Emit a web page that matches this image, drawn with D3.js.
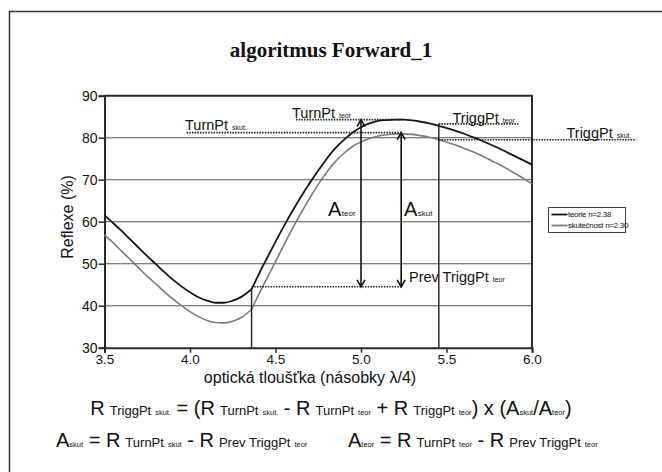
<!DOCTYPE html>
<html>
<head>
<meta charset="utf-8">
<script src="https://cdn.jsdelivr.net/npm/d3@7/dist/d3.min.js"></script>
<style>
  html, body { margin: 0; padding: 0; background: #fff; }
  svg { display: block; }
  text { font-family: "Liberation Sans", Arial, sans-serif; fill: #111; }
</style>
</head>
<body>
<svg id="chart" width="662" height="472"></svg>
<script>
// ---- data -------------------------------------------------------------
// first layer (up to the trigger point), optical thickness in lambda/4
const thickness1 = [3.50, 3.55, 3.60, 3.65, 3.70, 3.75, 3.80, 3.85, 3.90, 3.95,
                    4.00, 4.05, 4.10, 4.15, 4.20, 4.25, 4.30, 4.36];
const teorie1    = [61.5, 59.7, 57.8, 55.8, 53.8, 51.8, 49.9, 48.0, 46.2, 44.6,
                    43.2, 42.0, 41.2, 40.7, 40.7, 41.2, 42.1, 43.9];
const skut1      = [56.8, 55.0, 53.0, 51.0, 49.0, 47.0, 45.2, 43.3, 41.6, 40.0,
                    38.6, 37.4, 36.5, 36.0, 35.9, 36.3, 37.2, 39.1];

// second layer (after the trigger point)
const thickness2 = [4.36, 4.40, 4.45, 4.50, 4.55, 4.60, 4.65, 4.70, 4.75, 4.80,
                    4.85, 4.90, 4.95, 5.00, 5.05, 5.10, 5.15, 5.20, 5.25, 5.30,
                    5.35, 5.40, 5.45, 5.50, 5.55, 5.60, 5.65, 5.70, 5.75, 5.80,
                    5.85, 5.90, 5.95, 6.00];
const teorie2    = [43.9, 47.3, 51.3, 55.2, 59.0, 62.6, 66.0, 69.2, 72.2, 75.0,
                    77.5, 79.5, 81.2, 82.5, 83.4, 84.0, 84.2, 84.3, 84.3, 84.1,
                    83.8, 83.4, 82.9, 82.3, 81.7, 81.0, 80.2, 79.4, 78.5, 77.6,
                    76.6, 75.6, 74.6, 73.6];
const skut2      = [39.1, 42.5, 46.5, 50.5, 54.5, 58.4, 62.1, 65.6, 68.9, 71.8,
                    74.3, 76.3, 77.9, 79.0, 79.8, 80.4, 80.7, 80.9, 80.9, 80.8,
                    80.5, 80.1, 79.6, 79.0, 78.3, 77.5, 76.7, 75.8, 74.8, 73.8,
                    72.7, 71.5, 70.3, 69.0];

const xTicks = [3.5, 4.0, 4.5, 5.0, 5.5, 6.0];
const yTicks = [30, 40, 50, 60, 70, 80, 90];
const seriesNames = ["teorie n=2.38", "skutečnost n=2.30"];

// characteristic points of the algorithm
const prevTriggX   = 4.36;   // previous trigger point (layer change)
const prevTriggR   = 44.5;
const turnTeorR    = 84.3;   // turning point, theory
const turnSkutR    = 81.2;   // turning point, real
const triggTeorX   = 5.455;  // trigger point, theory
const triggTeorR   = 83.3;
const triggSkutR   = 79.5;   // trigger point, real
const aTeorX       = 5.0;
const aSkutX       = 5.235;

// ---- layout -----------------------------------------------------------
const svg = d3.select("#chart");
const x = d3.scaleLinear().domain([3.5, 6.0]).range([104.5, 532]);
const y = d3.scaleLinear().domain([30, 90]).range([347.7, 95.7]);

const dark = "#2a2a2a", grid = "#555";

// outer frame (top and left edges)
svg.append("path")
  .attr("d", "M9.5,472 L9.5,11.5 L662,11.5")
  .attr("fill", "none").attr("stroke", "#333").attr("stroke-width", 1.5);

// title
svg.append("text")
  .attr("x", 331).attr("y", 57).attr("text-anchor", "middle")
  .style("font-family", "'Liberation Serif', 'Times New Roman', serif")
  .style("font-weight", "bold").style("font-size", "21px")
  .text("algoritmus Forward_1");

// horizontal grid lines
svg.append("g").selectAll("line")
  .data(yTicks.filter(v => v > 30 && v < 90))
  .join("line")
  .attr("x1", x(3.5)).attr("x2", x(6.0))
  .attr("y1", d => y(d)).attr("y2", d => y(d))
  .attr("stroke", grid).attr("stroke-width", 1.1);

// axes
const yAxis = d3.axisLeft(y).tickValues(yTicks).tickSize(6).tickFormat(d3.format("d"));
const xAxis = d3.axisBottom(x).tickValues(xTicks).tickSize(5).tickFormat(d3.format(".1f"));

const gy = svg.append("g").attr("transform", `translate(${x(3.5)},0)`).call(yAxis);
const gx = svg.append("g").attr("transform", `translate(0,${y(30)})`).call(xAxis);
[gx, gy].forEach(g => {
  g.select(".domain").attr("stroke", dark).attr("stroke-width", 2);
  g.selectAll(".tick line").attr("stroke", dark).attr("stroke-width", 1.5);
  g.selectAll(".tick text").style("font-family", "'Liberation Sans', Arial, sans-serif")
    .style("font-size", "14px").attr("fill", "#111");
});
gy.selectAll(".tick text").attr("x", -7).attr("dy", "0.36em");
gx.selectAll(".tick text").attr("y", 6.5).style("font-size", "13.5px");

// top and right border of the plot area
svg.append("path")
  .attr("d", `M${x(3.5)},${y(90)} L${x(6.0)},${y(90)} L${x(6.0)},${y(30)}`)
  .attr("fill", "none").attr("stroke", dark).attr("stroke-width", 2);

// axis titles
svg.append("text")
  .attr("transform", `translate(${73},${217}) rotate(-90)`)
  .attr("text-anchor", "middle").style("font-size", "16px")
  .text("Reflexe (%)");
svg.append("text")
  .attr("x", 310).attr("y", 382.5).attr("text-anchor", "middle").style("font-size", "16px")
  .text("optická tloušťka (násobky λ/4)");

// ---- reflectance curves ------------------------------------------------
const line = d3.line().x(d => x(d[0])).y(d => y(d[1])).curve(d3.curveMonotoneX);
const curves = [
  { xs: thickness1, ys: skut1,   color: "#7a7a7a", w: 1.6 },
  { xs: thickness2, ys: skut2,   color: "#7a7a7a", w: 1.6 },
  { xs: thickness1, ys: teorie1, color: "#151515", w: 1.8 },
  { xs: thickness2, ys: teorie2, color: "#151515", w: 1.8 }
];
svg.append("g").selectAll("path")
  .data(curves)
  .join("path")
  .attr("d", c => line(c.xs.map((v, i) => [v, c.ys[i]])))
  .attr("fill", "none")
  .attr("stroke", c => c.color)
  .attr("stroke-width", c => c.w);

// ---- construction lines -------------------------------------------------
const ann = svg.append("g");

// vertical lines at the previous and current trigger points
ann.append("line")
  .attr("x1", x(prevTriggX)).attr("x2", x(prevTriggX))
  .attr("y1", y(teorie1[teorie1.length - 1])).attr("y2", y(30))
  .attr("stroke", dark).attr("stroke-width", 1.5);
ann.append("line")
  .attr("x1", x(triggTeorX)).attr("x2", x(triggTeorX))
  .attr("y1", y(triggTeorR)).attr("y2", y(30))
  .attr("stroke", dark).attr("stroke-width", 1.5);

// dotted level lines
const dotted = [
  { x1: prevTriggX, x2: aSkutX, r: prevTriggR },
  { x1: 3.98,       x2: aSkutX, r: turnSkutR },
  { x1: 4.62,       x2: 5.25,   r: turnTeorR },
  { x1: triggTeorX, x2: 5.92,   r: triggTeorR },
  { x1: triggTeorX, x2: 6.61,   r: triggSkutR }
];
ann.selectAll("line.dot")
  .data(dotted)
  .join("line")
  .attr("class", "dot")
  .attr("x1", d => x(d.x1)).attr("x2", d => x(d.x2))
  .attr("y1", d => y(d.r)).attr("y2", d => y(d.r))
  .attr("stroke", "#222").attr("stroke-width", 1.6)
  .attr("stroke-dasharray", "1.5,1.2");

// double-headed amplitude arrows
function arrow(xv, r0, r1) {
  const px = x(xv), yTop = y(r1), yBot = y(r0);
  ann.append("line").attr("x1", px).attr("x2", px).attr("y1", yTop).attr("y2", yBot)
    .attr("stroke", "#111").attr("stroke-width", 1.6);
  ann.append("path")
    .attr("d", `M${px - 4},${yTop + 7} L${px},${yTop} L${px + 4},${yTop + 7}` +
               `M${px - 4},${yBot - 7} L${px},${yBot} L${px + 4},${yBot - 7}`)
    .attr("fill", "none").attr("stroke", "#111").attr("stroke-width", 1.6);
}
arrow(aTeorX, prevTriggR, turnTeorR);
arrow(aSkutX, prevTriggR, turnSkutR);

// ---- labels with small subscripts ----------------------------------------
// parts: [text, font size, horizontal gap before the part]
function rich(px, py, parts, anchor) {
  const t = svg.append("text").attr("x", px).attr("y", py)
    .attr("text-anchor", anchor || "start")
    .style("white-space", "pre");
  parts.forEach(p => t.append("tspan")
    .attr("dx", p[2] || 0)
    .style("font-size", p[1] + "px").text(p[0]));
  return t;
}
rich(185, 130,   [["TurnPt", 14.5], ["skut.", 7, 4]]);
rich(292, 117.5, [["TurnPt", 14.5], ["teor", 7, 4]]);
rich(452.5, 122.5, [["TriggPt", 14.5], ["teor", 7, 4]]);
rich(566.5, 137.5, [["TriggPt", 14.5], ["skut.", 7, 4]]);
rich(328, 216,   [["A", 20], ["teor", 8, 0.5]]);
rich(404, 216,   [["A", 20], ["skut", 8, 0.5]]);
rich(409, 282,   [["Prev TriggPt", 14.5], ["teor", 7, 4]]);

// formulas below the chart
const B = 20, M = 13, S = 7.5;
rich(331, 415, [
  ["R", B], ["TriggPt", M, 5], ["skut.", S, 4], [" = (", B],
  ["R", B], ["TurnPt", M, 5], ["skut.", S, 4], [" - ", B],
  ["R", B], ["TurnPt", M, 5], ["teor", S, 4], [" + ", B],
  ["R", B], ["TriggPt", M, 5], ["teor", S, 4], [") x (", B],
  ["A", B], ["skut", S], ["/", B], ["A", B], ["teor", S], [")", B]
], "middle");
rich(56, 447, [
  ["A", B], ["skut", S], [" = ", B], ["R", B], ["TurnPt", M, 5], ["skut", S, 4],
  [" - ", B], ["R", B], ["Prev TriggPt", M, 5], ["teor", S, 4]
]);
rich(348, 447, [
  ["A", B], ["teor", S], [" = ", B], ["R", B], ["TurnPt", M, 5], ["teor", S, 4],
  [" - ", B], ["R", B], ["Prev TriggPt", M, 5], ["teor", S, 4]
]);

// ---- legend -------------------------------------------------------------
const lg = svg.append("g").attr("transform", "translate(548.5,207.5)");
lg.append("rect").attr("width", 77).attr("height", 25)
  .attr("fill", "#fff").attr("stroke", "#444").attr("stroke-width", 1);
const legendColors = ["#151515", "#7a7a7a"];
seriesNames.forEach((name, i) => {
  const ly = 7 + i * 11;
  lg.append("line").attr("x1", 3).attr("x2", 19).attr("y1", ly).attr("y2", ly)
    .attr("stroke", legendColors[i]).attr("stroke-width", 1.8);
  lg.append("text").attr("x", 19.5).attr("y", ly + 2.8)
    .style("font-size", "8px").style("letter-spacing", "-0.3px").text(name);
});
</script>
</body>
</html>
